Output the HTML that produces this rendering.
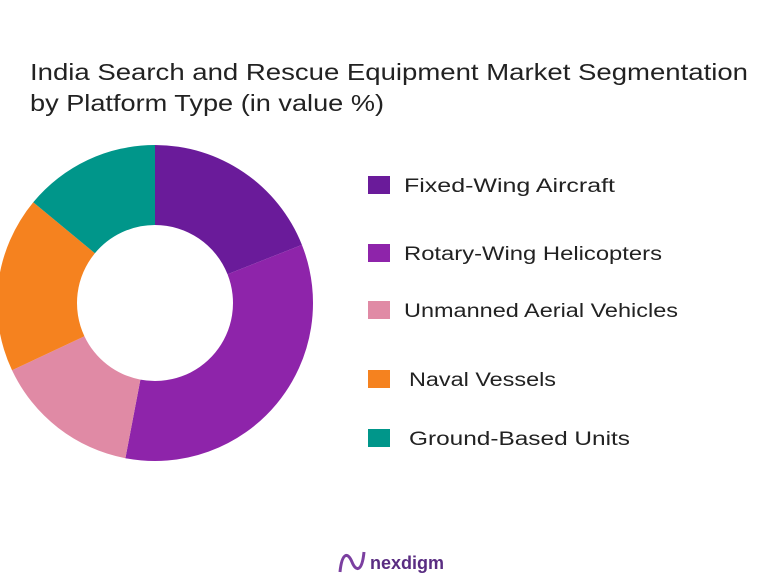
<!DOCTYPE html>
<html><head><meta charset="utf-8"><style>
body{margin:0;width:773px;height:582px;background:#fff;overflow:hidden;font-family:"Liberation Sans",sans-serif;}
</style></head><body>
<svg width="773" height="582">
<text x="30" y="80" font-size="23" fill="#222" textLength="718" lengthAdjust="spacingAndGlyphs">India Search and Rescue Equipment Market Segmentation</text>
<text x="30" y="111" font-size="23" fill="#222" textLength="354" lengthAdjust="spacingAndGlyphs">by Platform Type (in value %)</text>
<g id="donut"></g>
<g id="legend"></g>
<g>
<path d="M340 572 C342 552,348 552,352 562 C356 572,362 572,364 552" stroke="#7b3fa0" stroke-width="3" fill="none"/>
<text x="370" y="569" font-size="18" font-weight="bold" fill="#5a2d82">nexdigm</text>
</g>
</svg>
<script>
const categories=["Fixed-Wing Aircraft","Rotary-Wing Helicopters","Unmanned Aerial Vehicles","Naval Vessels","Ground-Based Units"];
const values=[19,34,15,18,14];
const colors=["#6A1B9A","#8E24AA","#E08AA5","#F5821F","#00968A"];
const ns="http://www.w3.org/2000/svg";
const cx=155,cy=303,R=158,r=78;
const total=values.reduce((a,b)=>a+b,0);
const d=document.getElementById('donut');
function pt(a,rad){return [cx+rad*Math.sin(a),cy-rad*Math.cos(a)];}
let acc=0;
values.forEach((v,i)=>{
 const a0=acc/total*2*Math.PI;acc+=v;const a1=acc/total*2*Math.PI;
 const lg=(a1-a0)>Math.PI?1:0;
 const [x0,y0]=pt(a0,R),[x1,y1]=pt(a1,R),[x2,y2]=pt(a1,r),[x3,y3]=pt(a0,r);
 const p=document.createElementNS(ns,'path');
 p.setAttribute('d',`M${x0} ${y0}A${R} ${R} 0 ${lg} 1 ${x1} ${y1}L${x2} ${y2}A${r} ${r} 0 ${lg} 0 ${x3} ${y3}Z`);
 p.setAttribute('fill',colors[i]);
 
 
 d.appendChild(p);
});
const lg=document.getElementById('legend');
const ly=[186,254,311,380,439];
const lx=[404,404,404,409,409];
const lw=[211,258,274,147,221];
categories.forEach((c,i)=>{
 const g=document.createElementNS(ns,'g');
 
 
 const s=document.createElementNS(ns,'rect');
 s.setAttribute('x',368);s.setAttribute('y',ly[i]-10);s.setAttribute('width',22);s.setAttribute('height',18);s.setAttribute('fill',colors[i]);
 const t=document.createElementNS(ns,'text');
 t.setAttribute('x',lx[i]);t.setAttribute('y',ly[i]+6);t.setAttribute('font-size','19');t.setAttribute('fill','#222');
 t.setAttribute('textLength',lw[i]);t.setAttribute('lengthAdjust','spacingAndGlyphs');
 t.textContent=c;
 g.appendChild(s);g.appendChild(t);lg.appendChild(g);
});
</script>
</body></html>
